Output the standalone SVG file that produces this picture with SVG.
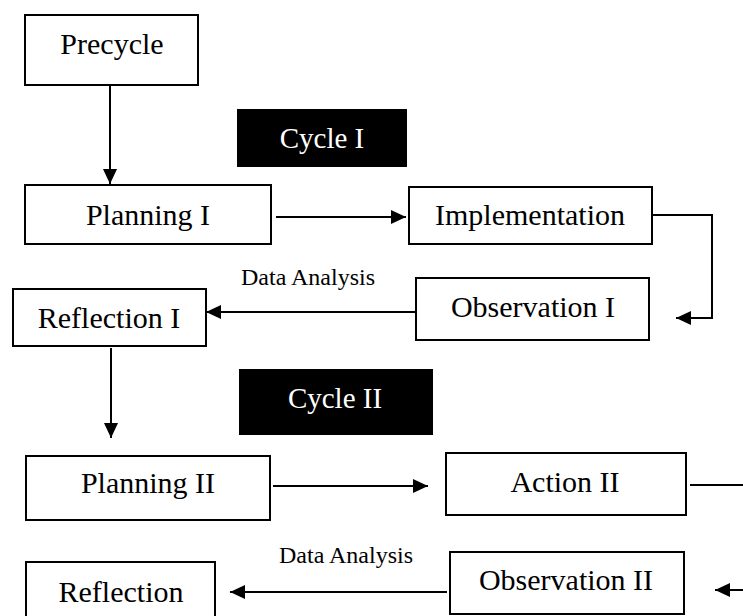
<svg xmlns="http://www.w3.org/2000/svg" width="743" height="616" viewBox="0 0 743 616">
<style>
.box{fill:#fff;stroke:#000;stroke-width:2}
.dark{fill:#000;stroke:none}
.t{font-family:"Liberation Serif","Times New Roman",serif;font-size:30px;fill:#000;text-anchor:middle}
.tw{font-family:"Liberation Serif","Times New Roman",serif;font-size:29px;fill:#fff;text-anchor:middle}
.lbl{font-family:"Liberation Serif","Times New Roman",serif;font-size:24px;fill:#000;text-anchor:middle}
.c{fill:none;stroke:#000;stroke-width:2}
</style>
<defs>
<marker id="ah" markerUnits="userSpaceOnUse" markerWidth="16" markerHeight="14" refX="15" refY="7" orient="auto">
<path d="M0,0 L15,7 L0,14 Z" fill="#000"/>
</marker>
</defs>
<rect width="743" height="616" fill="#fff"/>
<g id="connectors">
<line class="c" x1="110" y1="85" x2="110" y2="184" marker-end="url(#ah)"/>
<line class="c" x1="276" y1="217" x2="406" y2="217" marker-end="url(#ah)"/>
<polyline class="c" points="652,215 712,215 712,318 676,318" marker-end="url(#ah)"/>
<line class="c" x1="416" y1="312" x2="206" y2="312" marker-end="url(#ah)"/>
<line class="c" x1="111" y1="348" x2="111" y2="438" marker-end="url(#ah)"/>
<line class="c" x1="273" y1="486" x2="428" y2="486" marker-end="url(#ah)"/>
<line class="c" x1="690" y1="485" x2="743" y2="485"/>
<line class="c" x1="743" y1="590" x2="715" y2="590" marker-end="url(#ah)"/>
<line class="c" x1="447" y1="592" x2="230" y2="592" marker-end="url(#ah)"/>
<text class="lbl" x="308" y="285">Data Analysis</text>
<text class="lbl" x="346" y="563">Data Analysis</text>
</g>
<g id="precycle">
<rect class="box" x="25" y="15" width="173" height="70"/>
<text class="t" x="112" y="54">Precycle</text>
</g>
<g id="cycle1">
<rect class="dark" x="237" y="109" width="170" height="58"/>
<text class="tw" x="322" y="148">Cycle I</text>
</g>
<g id="planning1">
<rect class="box" x="25" y="185" width="246" height="59"/>
<text class="t" x="148" y="225">Planning I</text>
</g>
<g id="implementation">
<rect class="box" x="409" y="187" width="243" height="57"/>
<text class="t" x="530" y="225">Implementation</text>
</g>
<g id="observation1">
<rect class="box" x="416" y="278" width="233" height="62"/>
<text class="t" x="533" y="317">Observation I</text>
</g>
<g id="reflection1">
<rect class="box" x="13" y="289" width="193" height="57"/>
<text class="t" x="109" y="328">Reflection I</text>
</g>
<g id="cycle2">
<rect class="dark" x="239" y="369" width="194" height="66"/>
<text class="tw" x="335" y="408">Cycle II</text>
</g>
<g id="planning2">
<rect class="box" x="26" y="456" width="244" height="64"/>
<text class="t" x="148" y="493">Planning II</text>
</g>
<g id="action2">
<rect class="box" x="446" y="453" width="240" height="62"/>
<text class="t" x="565" y="492">Action II</text>
</g>
<g id="observation2">
<rect class="box" x="450" y="552" width="234" height="62"/>
<text class="t" x="566" y="590">Observation II</text>
</g>
<g id="reflection2">
<rect class="box" x="26" y="562" width="189" height="70"/>
<text class="t" x="121" y="602">Reflection</text>
</g>
</svg>
